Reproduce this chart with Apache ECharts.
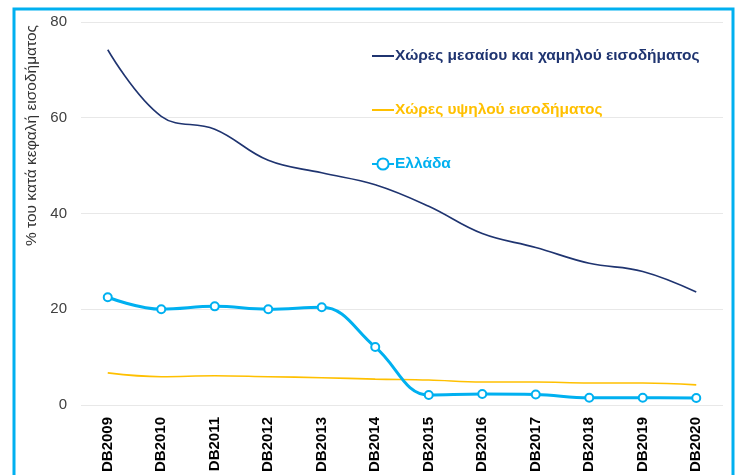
<!DOCTYPE html>
<html>
<head>
<meta charset="utf-8">
<script src="https://cdn.jsdelivr.net/npm/echarts@6/dist/echarts.min.js"></script>
<style>
  html, body { margin: 0; padding: 0; background: #fff; }
  #chart { width: 738px; height: 475px; }
</style>
</head>
<body>
<div id="chart"></div>
<script>
var years = ['DB2009', 'DB2010', 'DB2011', 'DB2012', 'DB2013', 'DB2014',
	'DB2015', 'DB2016', 'DB2017', 'DB2018', 'DB2019', 'DB2020'];
var lowMid = [74.2, 60.3, 57.6, 51.1, 48.5, 46.0, 41.5, 35.8, 32.9, 29.6, 27.9, 23.6];
var highInc = [6.7, 5.9, 6.1, 5.9, 5.7, 5.4, 5.2, 4.8, 4.8, 4.6, 4.6, 4.2];
var greece = [22.5, 20.0, 20.6, 20.0, 20.4, 12.1, 2.1, 2.3, 2.2, 1.5, 1.5, 1.45];
var names = ['Χώρες μεσαίου και χαμηλού εισοδήματος', 'Χώρες υψηλού εισοδήματος', 'Ελλάδα'];
var colors = ['#1F3470', '#FFC000', '#00B0F0'];

var myChart = echarts.init(document.getElementById('chart'));

option = {
	animation: false,
	textStyle: { fontFamily: 'Liberation Sans, Arial, sans-serif' },
	color: colors,
	graphic: [{
		type: 'rect',
		shape: { x: 14, y: 9, width: 719, height: 520 },
		style: { fill: 'none', stroke: '#00B0F0', lineWidth: 3 }
	}],
	grid: { left: 81, right: 15, top: 22, bottom: 69 },
	legend: {
		orient: 'vertical',
		left: 366,
		top: 43,
		itemGap: 38,
		itemWidth: 22,
		itemHeight: 14,
		data: [
			{ name: names[0], itemStyle: { opacity: 0 }, textStyle: { color: colors[0] } },
			{ name: names[1], itemStyle: { opacity: 0 }, textStyle: { color: colors[1] } },
			{ name: names[2], textStyle: { color: colors[2] } }
		],
		textStyle: { fontSize: 15.5, fontWeight: 'bold', padding: [0, 0, 0, -4] }
	},
	xAxis: {
		type: 'category',
		data: years,
		axisLine: { show: false },
		axisTick: { show: false },
		axisLabel: {
			rotate: 90,
			margin: 12,
			fontSize: 15,
			fontWeight: 'bold',
			color: '#000'
		}
	},
	yAxis: {
		type: 'value',
		min: 0,
		max: 80,
		interval: 20,
		name: '% του κατά κεφαλή εισοδήματος',
		nameLocation: 'middle',
		nameRotate: 90,
		nameGap: 35,
		nameTextStyle: { fontSize: 15.5, color: '#333', padding: [0, 0, 0, 156] },
		axisLabel: { fontSize: 15, color: '#404040', margin: 14 },
		splitLine: { lineStyle: { color: '#e8e8e8' } }
	},
	series: [
		{
			name: names[0],
			type: 'line',
			smooth: 0.4,
			symbol: 'none',
			data: lowMid,
			lineStyle: { width: 1.6, color: colors[0] }
		},
		{
			name: names[1],
			type: 'line',
			smooth: 0.4,
			symbol: 'none',
			data: highInc,
			lineStyle: { width: 1.6, color: colors[1] }
		},
		{
			name: names[2],
			type: 'line',
			smooth: 0.4,
			symbol: 'circle',
			symbolSize: 8,
			data: greece,
			lineStyle: { width: 3, color: colors[2] },
			itemStyle: { color: '#fff', borderColor: colors[2], borderWidth: 2 }
		}
	]
};
myChart.setOption(option);
</script>
</body>
</html>
